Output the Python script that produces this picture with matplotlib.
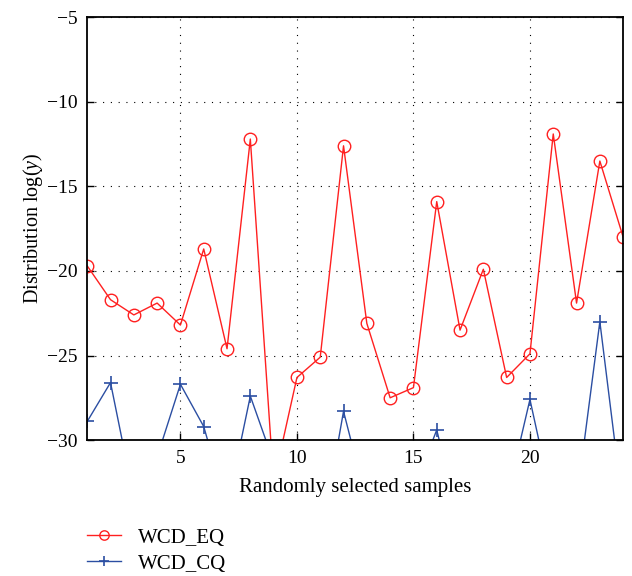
import numpy as np
import matplotlib
matplotlib.use("Agg")
import matplotlib.pyplot as plt

plt.rcParams['font.family'] = ['Liberation Serif', 'DejaVu Serif']
plt.rcParams['mathtext.fontset'] = 'custom'
plt.rcParams['mathtext.rm'] = 'Liberation Serif'
plt.rcParams['mathtext.it'] = 'Liberation Serif:italic'

samples = np.arange(1, 25)
# values below -30 fall outside the visible range (estimated from line slopes)
wcd_eq = [-19.7, -21.7, -22.6, -21.9, -23.2, -18.7, -24.6, -12.2, -32.5, -26.3,
          -25.1, -12.6, -23.1, -27.5, -26.9, -15.9, -23.5, -19.9, -26.3, -24.9,
          -11.9, -21.9, -13.5, -18.0]
wcd_cq = [-28.9, -26.6, -33.4, -31.0, -26.7, -29.2, -34.0, -27.4, -31.3, -38.0,
          -36.1, -28.3, -33.7, -36.0, -33.0, -29.4, -35.0, -36.0, -33.5, -27.6,
          -33.9, -33.6, -23.0, -34.1]

fig = plt.figure(figsize=(6.32, 5.76), dpi=100)
ax = fig.add_axes([0.138, 0.236, 0.848, 0.734])

ax.plot(samples, wcd_eq, color='#ff2020', lw=1.0, marker='o', ms=9,
        mfc='none', mec='#ff2020', mew=1.0, label='WCD_EQ')
ax.plot(samples, wcd_cq, color='#2b4ea2', lw=1.0, marker='+', ms=10,
        mew=1.2, label='WCD_CQ')

ax.set_xlim(1, 24)
ax.set_ylim(-30, -5)
ax.set_xticks([5, 10, 15, 20])
ax.set_yticks([-30, -25, -20, -15, -10, -5])
ax.grid(True, color='black', linestyle=(0, (1, 6)), lw=0.8)
ax.tick_params(direction='in', length=5, width=1, labelsize=14,
               top=False, right=True, pad=7)
for s in ax.spines.values():
    s.set_linewidth(1.3)

ax.set_xlabel('Randomly selected samples', fontsize=15, labelpad=8)
ax.set_ylabel('Distribution log($y$)', fontsize=14.5, labelpad=1)

fig.legend(loc='upper left', bbox_to_anchor=(0.138, 0.083), frameon=False,
           fontsize=15, handlelength=1.6, handletextpad=0.85, markerscale=0.75,
           labelspacing=0.3, borderpad=0, borderaxespad=0)

fig.savefig('out.png', dpi=100)
